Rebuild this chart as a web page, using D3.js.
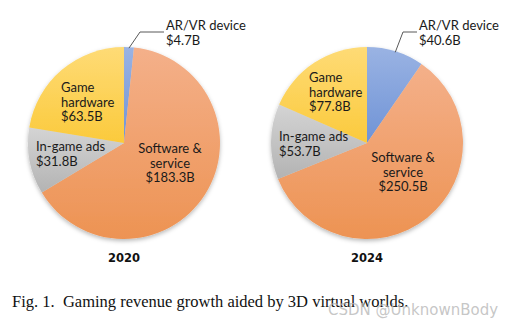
<!DOCTYPE html>
<html>
<head>
<meta charset="utf-8">
<script src="https://cdn.jsdelivr.net/npm/d3@7"></script>
<style>
  body { margin: 0; background: #fff; }
  svg { display: block; }
</style>
</head>
<body>
<div id="chart"></div>
<script>
// data
const categories = ["AR/VR device", "Software & service", "In-game ads", "Game hardware"]
const years = ["2020", "2024"]
const values2020 = [4.7, 183.3, 31.8, 63.5]
const values2024 = [40.6, 250.5, 53.7, 77.8]
const caption = "Fig. 1.  Gaming revenue growth aided by 3D virtual worlds."

const width = 512, height = 327
const radius = 96

// slice colours, light (top) -> dark (bottom)
const colors = [
    ["#9ab3e3", "#6f93d6"],
    ["#f4b08a", "#ed9353"],
    ["#d4d4d4", "#b3b3b3"],
    ["#fedb76", "#fbca3c"]
]

// where each label sits, relative to pie centre
const layout = [
    {cx: 124, cy: 143,
     labels: [
        {dx: 42, dy: -113, anchor: "start"},
        {dx: 46, dy: 10, anchor: "middle"},
        {dx: -88, dy: 8, anchor: "start"},
        {dx: -63, dy: -51, anchor: "start"}],
     elbow: {dx: 16, dy: -111}},
    {cx: 367, cy: 143,
     labels: [
        {dx: 52, dy: -113, anchor: "start"},
        {dx: 36, dy: 19, anchor: "middle"},
        {dx: -88, dy: -2, anchor: "start"},
        {dx: -58, dy: -61, anchor: "start"}],
     elbow: {dx: 36, dy: -111}}
]

const svg = d3.select("#chart")
    .append("svg")
    .attr("width", width)
    .attr("height", height)

const defs = svg.append("defs")
colors.forEach((c, i) => {
    const g = defs.append("linearGradient")
        .attr("id", "grad" + i)
        .attr("x1", 0).attr("y1", 0).attr("x2", 0).attr("y2", 1)
    g.append("stop").attr("offset", "0%").attr("stop-color", c[0])
    g.append("stop").attr("offset", "100%").attr("stop-color", c[1])
})
defs.append("filter")
    .attr("id", "shadow")
    .attr("x", "-10%").attr("y", "-10%").attr("width", "120%").attr("height", "125%")
    .append("feDropShadow")
    .attr("dx", 0).attr("dy", 2).attr("stdDeviation", 2)
    .attr("flood-color", "#000").attr("flood-opacity", 0.28)

const pie = d3.pie().sort(null).value(d => d)
const arc = d3.arc().innerRadius(0).outerRadius(radius)

const fmt = v => "$" + v.toFixed(1) + "B"

const lineH = 14.5

;[values2020, values2024].forEach((vals, k) => {
    const L = layout[k]
    const g = svg.append("g")
        .attr("transform", `translate(${L.cx},${L.cy})`)

    const arcs = pie(vals)

    g.append("g")
        .attr("filter", "url(#shadow)")
        .selectAll("path")
        .data(arcs)
        .join("path")
        .attr("d", arc)
        .attr("fill", (d, i) => `url(#grad${i})`)

    // labels
    arcs.forEach((d, i) => {
        const p = L.labels[i]
        let lines
        if (i === 1) lines = ["Software &", "service", fmt(vals[i])]
        else if (i === 3) lines = ["Game", "hardware", fmt(vals[i])]
        else lines = [categories[i], fmt(vals[i])]
        const t = g.append("text")
            .attr("text-anchor", p.anchor)
            .attr("font-family", "Lato, 'Open Sans', sans-serif")
            .attr("font-size", "13px")
            .attr("fill", "#1a1a1a")
        lines.forEach((s, j) => {
            t.append("tspan")
                .attr("x", p.dx)
                .attr("y", p.dy + j * lineH)
                .text(s)
        })
    })

    // leader line for the small AR/VR slice
    const a = (arcs[0].startAngle + arcs[0].endAngle) / 2
    const ex = Math.sin(a) * (radius - 1), ey = -Math.cos(a) * (radius - 1)
    const p0 = L.labels[0]
    g.append("polyline")
        .attr("points", [[ex, ey], [L.elbow.dx, L.elbow.dy], [p0.dx - 2, L.elbow.dy]].map(q => q.join(",")).join(" "))
        .attr("fill", "none")
        .attr("stroke", "#595959")
        .attr("stroke-width", 1)

    // year
    svg.append("text")
        .attr("x", L.cx)
        .attr("y", 262)
        .attr("text-anchor", "middle")
        .attr("font-family", "'DejaVu Sans', Verdana, sans-serif")
        .attr("font-weight", "bold")
        .attr("font-size", "11.5px")
        .attr("fill", "#111")
        .text(years[k])
})

svg.append("text")
    .attr("x", 12)
    .attr("y", 307)
    .attr("font-family", "'Liberation Serif', 'Times New Roman', serif")
    .attr("font-size", "16.5px")
    .attr("fill", "#111")
    .attr("xml:space", "preserve")
    .style("white-space", "pre")
    .text(caption)

svg.append("text")
    .attr("x", 328)
    .attr("y", 315)
    .attr("font-family", "'DejaVu Sans', sans-serif")
    .attr("font-size", "15px")
    .attr("fill", "#b8b8b8")
    .attr("fill-opacity", 0.8)
    .text("CSDN @UnknownBody")
</script>
</body>
</html>
